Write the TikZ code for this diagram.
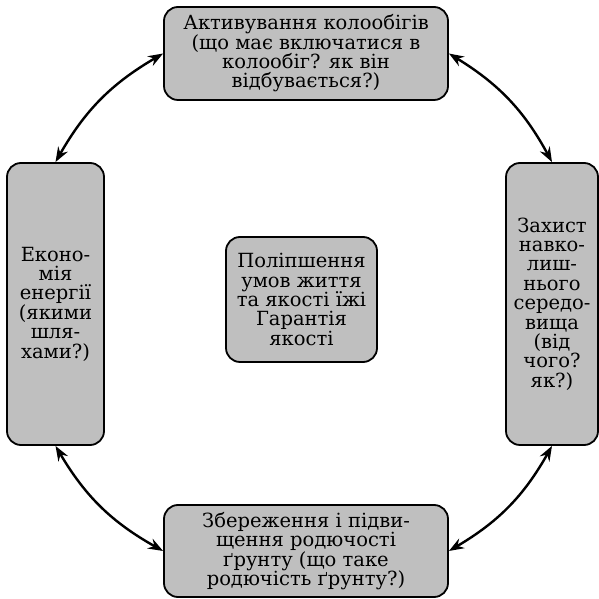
\documentclass[tikz,border=0pt]{standalone}
\usepackage{fontspec}
\setmainfont{DejaVu Serif}
\usetikzlibrary{arrows.meta}
\begin{document}
\begin{tikzpicture}[x=1pt,y=1pt,
  topic/.style={draw=black, line width=1.8pt, fill=lightgray, rounded corners=14pt,
    align=center, inner sep=0pt, font=\fontsize{19.5}{19.4}\selectfont},
  link/.style={{Stealth[length=15pt,width=11pt,inset=5pt]}-{Stealth[length=15pt,width=11pt,inset=5pt]}, line width=2.4pt}]
\useasboundingbox (0,0) rectangle (599,599);
\node[topic, minimum width=284pt, minimum height=93pt] (cycle) at (306,545.5)
  {Активування колообігів\\(що має включатися в\\колообіг? як він\\відбувається?)};
\node[topic, minimum width=97pt, minimum height=282pt] (energy) at (55.5,295)
  {Еконо-\\мія\\енергії\\(якими\\шля-\\хами?)};
\node[topic, minimum width=92pt, minimum height=282pt] (nature) at (552,295)
  {Захист\\навко-\\лиш-\\нього\\середо-\\вища\\(від\\чого?\\як?)};
\node[topic, minimum width=284pt, minimum height=92pt] (soil) at (306,48)
  {Збереження і підви-\\щення родючості\\ґрунту (що таке\\родючість ґрунту?)};
\node[topic, minimum width=151pt, minimum height=125pt] (life) at (301.5,299.5)
  {Поліпшення\\умов життя\\та якості їжі\\Гарантія\\якості};
\draw[link] (energy.north) to[bend left=15] (cycle.west);
\draw[link] (cycle.east) to[bend left=15] (nature.north);
\draw[link] (nature.south) to[bend left=15] (soil.east);
\draw[link] (soil.west) to[bend left=15] (energy.south);
\end{tikzpicture}
\end{document}
